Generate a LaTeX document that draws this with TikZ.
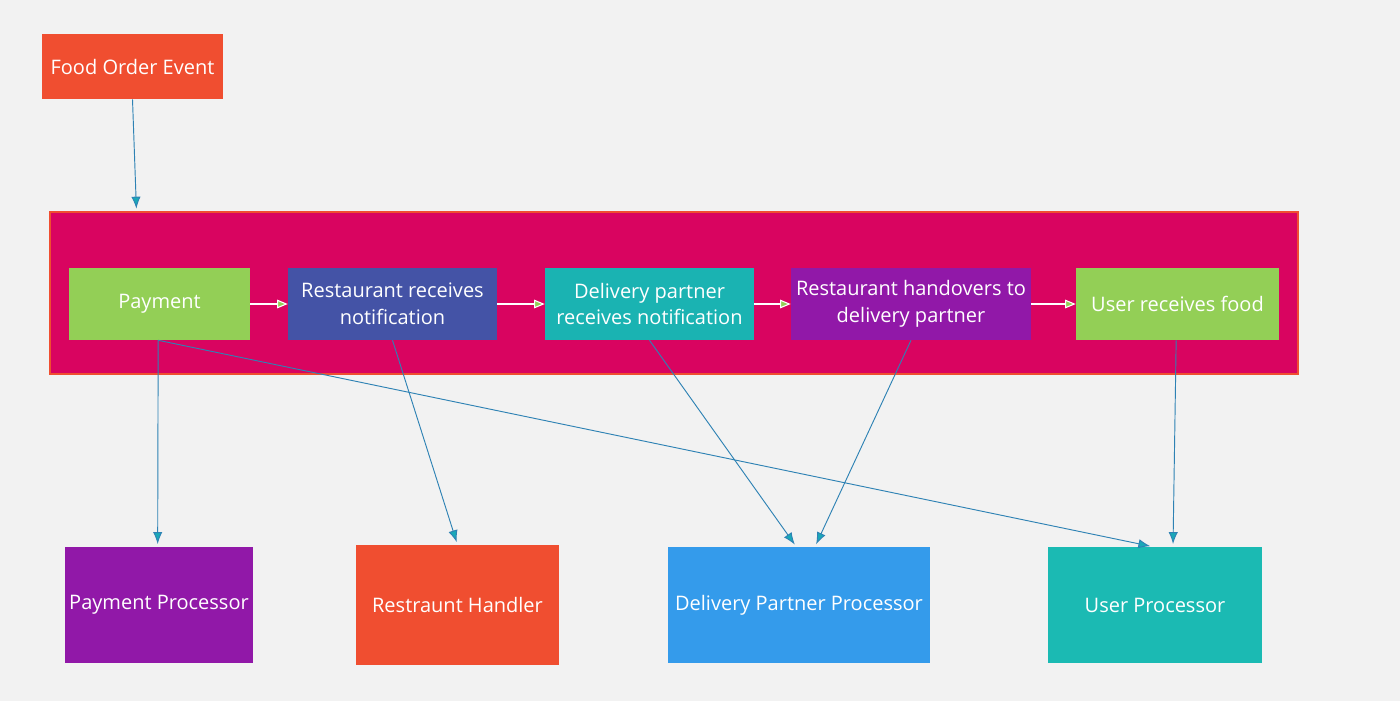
\documentclass[tikz,border=0pt]{standalone}
\usepackage{fontspec}
\setmainfont{Open Sans}
\usepackage{tikz}
\usetikzlibrary{arrows.meta,calc}

\definecolor{bgGray}{HTML}{F2F2F2}
\definecolor{evOrange}{HTML}{F04E30}
\definecolor{pipeRed}{HTML}{D90460}
\definecolor{stGreen}{HTML}{93CF56}
\definecolor{stBlue}{HTML}{4453A6}
\definecolor{stTeal}{HTML}{1AB3B2}
\definecolor{stPurple}{HTML}{9118A8}
\definecolor{prBlue}{HTML}{349BEB}
\definecolor{prTeal}{HTML}{1BBAB3}
\definecolor{lnBlue}{HTML}{2E82B4}
\definecolor{tipTeal}{HTML}{1AA8B8}

\begin{document}
\begin{tikzpicture}[x=0.75pt, y=-0.75pt,
    box/.style={rectangle, inner sep=0pt, text=white, align=center,
      font=\fontsize{15}{20}\selectfont},
    stage/.style={box, minimum height=72*0.75pt},
    handler/.style={box, minimum height=116*0.75pt},
    flow/.style={draw=white, line width=0.8pt,
      -{Triangle[length=8pt, width=6.5pt, fill=stGreen]}},
    link/.style={draw=lnBlue, line width=0.7pt, shorten >=2pt,
      -{Latex[length=9pt, width=7pt, fill=tipTeal]}}]

  \fill[bgGray] (0,0) rectangle (1400,701);
  \useasboundingbox (0,0) rectangle (1400,701);

  % event
  \node[box, fill=evOrange, minimum width=181*0.75pt, minimum height=65*0.75pt]
    (event) at (132.5,66.5) {Food Order Event};

  % pipeline
  \node[fill=pipeRed, draw=evOrange, line width=1pt,
    minimum width=1248*0.75pt, minimum height=162*0.75pt]
    (pipe) at (674,293) {};

  \node[stage, fill=stGreen, minimum width=181*0.75pt] (pay) at (159.5,304) {Payment};
  \node[stage, fill=stBlue, minimum width=209*0.75pt] (rest) at (392.5,304)
    {Restaurant receives\\notification};
  \node[stage, fill=stTeal, minimum width=209*0.75pt] (dlv) at (649.5,304)
    {Delivery partner\\receives notification};
  \node[stage, fill=stPurple, minimum width=240*0.75pt] (hand) at (911,304)
    {Restaurant handovers to\\delivery partner};
  \node[stage, fill=stGreen, minimum width=203*0.75pt] (food) at (1177.5,304)
    {User receives food};

  % processors
  \node[handler, fill=stPurple, minimum width=188*0.75pt] (payProc) at (159,605)
    {Payment Processor};
  \node[handler, fill=evOrange, minimum width=203*0.75pt, minimum height=120*0.75pt]
    (restHand) at (457.5,605) {Restraunt Handler};
  \node[handler, fill=prBlue, minimum width=262*0.75pt] (dlvProc) at (799,605)
    {Delivery Partner Processor};
  \node[handler, fill=prTeal, minimum width=214*0.75pt] (userProc) at (1155,605)
    {User Processor};

  \draw[link] (event.south) -- ([xshift=3pt]event.south |- pipe.north);

  \draw[flow] (pay) -- (rest);
  \draw[flow] (rest) -- (dlv);
  \draw[flow] (dlv) -- (hand);
  \draw[flow] (hand) -- (food);

  \draw[link] ([xshift=-1pt]pay.south) -- ([xshift=-1pt]payProc.north);
  \draw[link] ([xshift=-1pt]pay.south) -- ([xshift=-1.5pt]userProc.north);
  \draw[link] (rest.south) -- (restHand.north);
  \draw[link] (dlv.south) -- ([xshift=-2pt]dlvProc.north);
  \draw[link] (hand.south) -- ([xshift=12pt]dlvProc.north);
  \draw[link] ([xshift=-1pt]food.south) -- ([xshift=13.5pt]userProc.north);

\end{tikzpicture}
\end{document}
